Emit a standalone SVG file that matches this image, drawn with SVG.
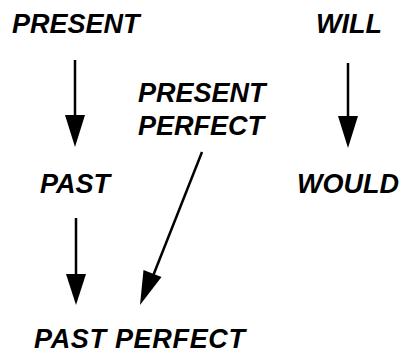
<svg xmlns="http://www.w3.org/2000/svg" width="403" height="350" viewBox="0 0 403 350">
<style>
text{font-family:"Liberation Sans",Arial,sans-serif;font-weight:bold;font-style:italic;font-size:27px;fill:#000}
.c line{stroke:#000;stroke-width:2.5}
.c polygon{fill:#000}
</style>
<rect width="403" height="350" fill="#fff"/>
<g id="present"><text x="12" y="33">PRESENT</text></g>
<g id="will"><text x="316" y="33">WILL</text></g>
<g id="present-perfect"><text x="138" y="102">PRESENT</text><text x="138" y="135">PERFECT</text></g>
<g id="past"><text x="40" y="193">PAST</text></g>
<g id="would"><text x="297" y="193">WOULD</text></g>
<g id="past-perfect"><text x="34" y="348" textLength="211" lengthAdjust="spacing">PAST PERFECT</text></g>
<g class="c" id="connectors">
<line x1="75" y1="60" x2="75" y2="118"/><polygon points="65,115 85,115 75,147"/>
<line x1="348" y1="63" x2="348" y2="119"/><polygon points="338,116 358,116 348,148"/>
<line x1="76" y1="218" x2="76" y2="277"/><polygon points="66,274 86,274 76,305"/>
<line x1="202" y1="152" x2="153" y2="276"/><polygon points="140,305 143.5,270 161.5,277"/>
</g>
</svg>
